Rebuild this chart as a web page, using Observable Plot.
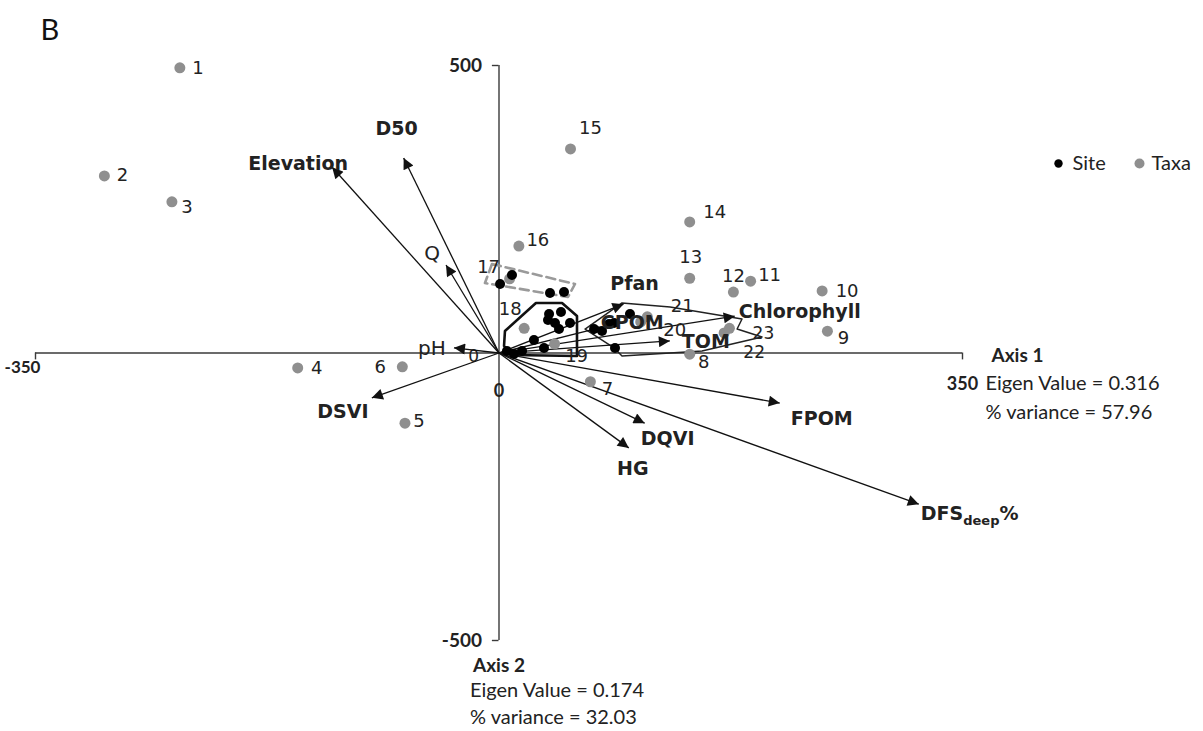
<!DOCTYPE html>
<html>
<head>
<meta charset="utf-8">
<script src="https://cdn.jsdelivr.net/npm/d3@7"></script>
<script src="https://cdn.jsdelivr.net/npm/@observablehq/plot@0.6"></script>
<style>
  html, body { margin: 0; padding: 0; background: #fff; }
  #chart svg { display: block; }
</style>
</head>
<body>
<div id="chart"></div>
<script>
// ---------- data ----------
const taxaId = [1,2,3,4,5,6,7,8,9,10,11,12,13,14,15,16,17,18,19,20,21,22,23];
const taxaX  = [-241,-298,-247,-152,-71,-73,69,144,248,244,190,177,144,144,54,15,8,19,42,107,112,170,174];
const taxaY  = [496,308,263,-26,-122,-24,-50,-2,38,108,125,106,130,228,355,186,129,43,16,54,63,35,43];

const siteX = [0.8,9.8,38.5,49.1,37.8,46.8,37,42.3,45.3,53.6,26.4,34,11.3,6,17.4,71.8,83.1,86.9,98.9,87.6,77.8];
const siteY = [120,135.7,104.3,106,67.8,71.3,57.4,52.2,41.7,52.2,22.6,8.7,-1.7,3.5,3.5,41.7,50.4,52.2,67.8,8.7,38.3];

const vecName = ["Elevation","D50","Q","pH","DSVI","HG","DQVI","FPOM","DFS_deep%","TOM","CPOM","Pfan","Chlorophyll"];
const vecX    = [-126,-72,-40,-34,-96,98,110,212,317,129,78,94,178];
const vecY    = [323,339,153,9,-78,-165,-122,-87,-263,21,45,85,64];

// group outlines (polygons)
const hullCentralX = [3.8,4.5,27.9,47.6,58.9,58.9,9.8];
const hullCentralY = [12.2,38.3,87,87,64.3,-5.2,-3.5];
const hullRightX   = [65,92.9,129.2,183.5,179.8,198.6,153.3,92.9,86.9];
const hullRightY   = [41.7,87,80,59.1,41.7,27.8,3.5,-5.2,8.7];
const hullDashedX  = [-5.3,57.4,52.1,-10.6];
const hullDashedY  = [154.8,120,97.4,121.7];

const xTicks = [-350,0,350];
const yTicks = [-500,0,500];
const axis1Lines = ["Axis 1","Eigen Value = 0.316","% variance = 57.96"];
const axis2Lines = ["Axis 2","Eigen Value = 0.174","% variance = 32.03"];
const legendItems = ["Site","Taxa"];

// ---------- label placement (pixel offsets) ----------
const taxaLabelDx = [18,18,15,19,14,-22,17,14,16,25,19,0,1,25,20,19,-21,-14,22,34,35,30,34];
const taxaLabelDy = [0,-1,5,0,-2,0,7,8,7,0,-6,-16,-21,-10,-21,-6,-12,-19,12,8,-11,20,5];
const taxaLabelSize = [18,18,18,18,18,18,18,18,18,18,18,18,18,18,18,18,18,18,18,18,18,17,17];
const vecLabelDx  = [-34,-7,-14,-22,-29,4,23,42,2,36,30,11,4];
const vecLabelDy  = [-3,-29,-11,1,14,21,16,16,10,1,-4,-20,-4];
const vecLabelAnchor = ["middle","middle","middle","middle","middle","middle","middle","middle","start","middle","middle","middle","start"];
const vecLabelBold = [true,true,false,false,true,true,true,true,true,true,true,true,true];

// ---------- tables ----------
const taxa  = taxaId.map((id,i) => ({id, x: taxaX[i], y: taxaY[i], dx: taxaLabelDx[i], dy: taxaLabelDy[i], size: taxaLabelSize[i]}));
const sites = siteX.map((x,i) => ({x, y: siteY[i]}));
const vecs  = vecName.map((name,i) => ({name, x: vecX[i], y: vecY[i], dx: vecLabelDx[i], dy: vecLabelDy[i], anchor: vecLabelAnchor[i], bold: vecLabelBold[i]}));
const closed = (xs, ys) => { const p = xs.map((x,i) => ({x, y: ys[i]})); p.push(p[0]); return p; };

const LABEL_FONT = "DejaVu Sans, sans-serif";
const CAL_FONT = "Lato, sans-serif";
const INK = "#222";

const marks = [
  // axes
  Plot.ruleY([0], {x1: xTicks[0], x2: xTicks[2], stroke: "#3a3a3a", strokeWidth: 1.4}),
  Plot.ruleX([0], {y1: yTicks[0], y2: yTicks[2], stroke: "#3a3a3a", strokeWidth: 1.4}),
  Plot.ruleX([xTicks[0], xTicks[2]], {y1: 0, y2: -12, stroke: "#3a3a3a", strokeWidth: 1.4}),
  Plot.ruleY([yTicks[0], yTicks[2]], {x1: 0, x2: -5, stroke: "#3a3a3a", strokeWidth: 1.4}),
  // tick labels
  Plot.text([yTicks[2]], {x: 0, y: d => d, text: d => String(d), textAnchor: "end", dx: -17, fontFamily: CAL_FONT, fontWeight: "bold", fontSize: 19, fill: INK}),
  Plot.text([yTicks[0]], {x: 0, y: d => d, text: d => String(d), textAnchor: "end", dx: -17, fontFamily: CAL_FONT, fontWeight: "bold", fontSize: 19, fill: INK}),
  Plot.text([yTicks[1]], {x: 0, y: d => d, text: d => String(d), textAnchor: "end", dx: -20, dy: 4, fontFamily: LABEL_FONT, fontSize: 17, fill: INK}),
  Plot.text([xTicks[1]], {x: d => d, y: 0, text: d => String(d), dy: 38, fontFamily: CAL_FONT, fontWeight: "bold", fontSize: 18, fill: INK}),
  Plot.text([xTicks[0]], {x: d => d, y: 0, text: d => String(d), dx: -13, dy: 15, fontFamily: CAL_FONT, fontWeight: "bold", fontSize: 17, fill: INK}),
  Plot.text([xTicks[2]], {x: d => d, y: 0, text: d => String(d), dx: 0, dy: 31, fontFamily: CAL_FONT, fontWeight: "bold", fontSize: 18, fill: INK}),
  // group outlines
  Plot.line(closed(hullDashedX, hullDashedY), {x: "x", y: "y", stroke: "#9a9a9a", strokeWidth: 2.6, strokeDasharray: "9,5", curve: "linear-closed"}),
  Plot.line(closed(hullCentralX, hullCentralY), {x: "x", y: "y", stroke: "#111", strokeWidth: 2.6, curve: "linear-closed"}),
  Plot.line(closed(hullRightX, hullRightY), {x: "x", y: "y", stroke: "#222", strokeWidth: 1.5, curve: "linear-closed"}),
  // vectors
  Plot.link(vecs, {x1: 0, y1: 0, x2: "x", y2: "y", stroke: "#111", strokeWidth: 1.3, className: "vec"}),
  // points
  Plot.dot(taxa, {x: "x", y: "y", r: 5.5, fill: "#8f8f8f"}),
  Plot.dot(sites, {x: "x", y: "y", r: 5, fill: "#000"}),
  // taxa labels
  ...taxa.map(d => Plot.text([d], {x: "x", y: "y", text: "id", dx: d.dx, dy: d.dy, fontFamily: LABEL_FONT, fontSize: d.size, fill: INK})),
  // vector labels
  ...vecs.map(d => Plot.text([d], {x: "x", y: "y", text: "name", dx: d.dx, dy: d.dy, textAnchor: d.anchor, fontFamily: LABEL_FONT, fontWeight: d.bold ? "bold" : "normal", fontSize: d.bold ? 19 : 20, fill: INK})),
  // axis captions
  Plot.text([axis1Lines[0]], {x: xTicks[2], y: 0, text: d => d, textAnchor: "start", dx: 29, dy: 3, fontFamily: CAL_FONT, fontWeight: "bold", fontSize: 19, fill: INK}),
  Plot.text([axis1Lines[1]], {x: xTicks[2], y: 0, text: d => d, textAnchor: "start", dx: 23, dy: 31, fontFamily: CAL_FONT, fontSize: 20, fill: INK}),
  Plot.text([axis1Lines[2]], {x: xTicks[2], y: 0, text: d => d, textAnchor: "start", dx: 23, dy: 60, fontFamily: CAL_FONT, fontSize: 20, fill: INK}),
  Plot.text([axis2Lines[0]], {x: 0, y: yTicks[0], text: d => d, textAnchor: "start", dx: -26, dy: 25, fontFamily: CAL_FONT, fontWeight: "bold", fontSize: 19, fill: INK}),
  Plot.text([axis2Lines[1]], {x: 0, y: yTicks[0], text: d => d, textAnchor: "start", dx: -29, dy: 50, fontFamily: CAL_FONT, fontSize: 20, fill: INK}),
  Plot.text([axis2Lines[2]], {x: 0, y: yTicks[0], text: d => d, textAnchor: "start", dx: -29, dy: 77, fontFamily: CAL_FONT, fontSize: 20, fill: INK}),
  // panel letter
  Plot.text(["B"], {frameAnchor: "top-left", lineAnchor: "middle", text: d => d, textAnchor: "start", dx: 5, dy: -35, fontFamily: CAL_FONT, fontSize: 29, fill: "#111"}),
  // legend
  Plot.dot([legendItems[0]], {frameAnchor: "top-right", dx: 96, dy: 98, r: 4.2, fill: "#000"}),
  Plot.text([legendItems[0]], {frameAnchor: "top-right", lineAnchor: "middle", text: d => d, textAnchor: "start", dx: 110, dy: 98, fontFamily: CAL_FONT, fontSize: 20, fill: INK}),
  Plot.dot([legendItems[1]], {frameAnchor: "top-right", dx: 177, dy: 98, r: 5, fill: "#8f8f8f"}),
  Plot.text([legendItems[1]], {frameAnchor: "top-right", lineAnchor: "middle", text: d => d, textAnchor: "start", dx: 189, dy: 98, fontFamily: CAL_FONT, fontSize: 20, fill: INK})
];

const chart = Plot.plot({
  width: 1203,
  height: 731,
  marginLeft: 35,
  marginRight: 241,
  marginTop: 65,
  marginBottom: 91,
  x: {domain: [-350, 350], axis: null},
  y: {domain: [-500, 500], axis: null},
  style: {background: "#fff", overflow: "visible"},
  marks
});

// filled triangular arrowheads
const svg = d3.select(chart);
const marker = svg.append("defs").append("marker")
  .attr("id", "tri").attr("viewBox", "0 0 10 10").attr("refX", 10).attr("refY", 5)
  .attr("markerWidth", 15).attr("markerHeight", 11).attr("markerUnits", "userSpaceOnUse")
  .attr("orient", "auto");
marker.append("path").attr("d", "M0,0L10,5L0,10Z").attr("fill", "#111");
svg.selectAll(".vec path, .vec line").attr("marker-end", "url(#tri)");

// subscript for DFS_deep%
svg.selectAll("text").each(function() {
  const t = d3.select(this);
  if (t.text() === "DFS_deep%") {
    t.text("");
    t.append("tspan").text("DFS");
    t.append("tspan").attr("font-size", 13).attr("dy", 5).text("deep");
    t.append("tspan").attr("dy", -5).text("%");
  }
});

document.getElementById("chart").append(chart);
</script>
</body>
</html>
